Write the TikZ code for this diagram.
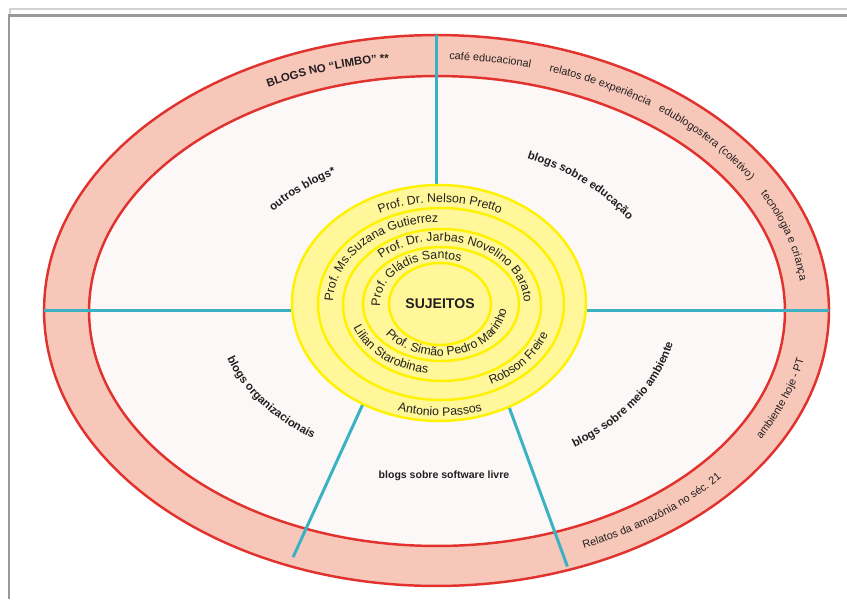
\documentclass[tikz,border=0pt]{standalone}
\usepackage{fontspec}
\setmainfont{Liberation Sans}
\usetikzlibrary{shapes.geometric,decorations.text}

\definecolor{faixa}{HTML}{F7C8BA}
\definecolor{borda}{HTML}{E2322D}
\definecolor{miolo}{HTML}{FDF8F8}
\definecolor{gema}{HTML}{FFF799}
\definecolor{gemaline}{HTML}{FFF200}
\definecolor{eixo}{HTML}{3BB2C4}
\definecolor{texto}{HTML}{231F20}

\newcommand{\bandfont}{\fontsize{6.2}{7.2}\selectfont}
\newcommand{\ringfont}{\fontsize{7}{8}\selectfont}
\newcommand{\zonefont}{\fontsize{6.5}{7.5}\selectfont\bfseries}

\pgfdeclarelayer{fundo}
\pgfdeclarelayer{eixos}
\pgfsetlayers{fundo,eixos,main}

\tikzset{
  oval/.style={ellipse, inner sep=0pt, outer sep=0pt},
  ring/.style={oval, draw=gemaline, fill=gema, line width=1.4pt},
  spoke/.style={draw=eixo, line width=1.7pt},
  curved/.style={decorate, decoration={text along path, text align=center, text color=texto, text={#1}}}
}

\begin{document}
\begin{tikzpicture}[x=0.02cm, y=0.02cm]
\useasboundingbox (0,0) rectangle (847,-599);

\begin{pgfonlayer}{fundo}
\fill[white] (0,0) rectangle (847,-599);
\draw[black!18, line width=0.6pt] (10,-15) -- (10,-9) -- (847,-9);
\draw[black!40, line width=1.7pt] (9,-599) -- (9,-15.5) -- (847,-15.5);
\node[oval, draw=borda, fill=faixa, line width=1.4pt, minimum width=15.7cm, minimum height=11.02cm] (out) at (436.5,-310.5) {};
\node[oval, draw=borda, fill=miolo, line width=1.4pt, minimum width=13.92cm, minimum height=9.4cm] (in) at (437,-311) {};
\end{pgfonlayer}

\node[ring, minimum width=5.88cm, minimum height=4.72cm] (r1) at (439,-303) {};
\node[ring, minimum width=4.92cm, minimum height=3.84cm] (r2) at (441,-304) {};
\node[ring, minimum width=3.96cm, minimum height=3.04cm] (r3) at (442,-305) {};
\node[ring, minimum width=3.12cm, minimum height=2.28cm] (r4) at (441,-304) {};
\node[ring, minimum width=2.04cm, minimum height=1.64cm] (r5) at (440,-304) {};
\coordinate (nucleo) at (440,-304);

\begin{pgfonlayer}{eixos}
\path[spoke] (out.north) -- (out.north |- r1.north);
\path[spoke] (out.west) -- (out.west -| r1.west);
\path[spoke] (out.east) -- (out.east -| r1.east);
\path[spoke, shorten >=0.19cm] (r1.233) -- (out.240);
\path[spoke, shorten >=0.07cm] (r1.304) -- (out.297);
\end{pgfonlayer}

\node[font=\fontsize{8}{9}\selectfont\bfseries, text=texto] (sujeitos) at (nucleo) {SUJEITOS};

% aneis
\path[curved={|\ringfont|Prof. Dr. Nelson Pretto}] ([shift={(125:131 and 102)}]nucleo) arc[start angle=125, end angle=55, x radius=131, y radius=102];
\path[curved={|\ringfont|Antonio Passos}] ([shift={(235:139 and 112)}]nucleo) arc[start angle=235, end angle=305, x radius=139, y radius=112];
\path[curved={|\ringfont|Prof. Ms.Suzana Gutierrez}] ([shift={(191:107 and 82)}]nucleo) arc[start angle=191, end angle=81, x radius=107, y radius=82];
\path[curved={|\ringfont|Robson Freire}] ([shift={(-71:115 and 90)}]nucleo) arc[start angle=-71, end angle=-11, x radius=115, y radius=90];
\path[curved={|\ringfont|Prof. Dr. Jarbas Novelino Barato}] ([shift={(147:84 and 63)}]nucleo) arc[start angle=147, end angle=-13, x radius=84, y radius=63];
\path[curved={|\ringfont|Lilian Starobinas}] ([shift={(190:92 and 70)}]nucleo) arc[start angle=190, end angle=270, x radius=92, y radius=70];
\path[curved={|\ringfont|Prof. Gládis Santos}] ([shift={(198:60 and 45)}]nucleo) arc[start angle=198, end angle=58, x radius=60, y radius=45];
\path[curved={|\ringfont|Prof. Simão Pedro Marinho}] ([shift={(200:67 and 52)}]nucleo) arc[start angle=200, end angle=370, x radius=67, y radius=52];

% faixa externa
\path[curved={|\zonefont|BLOGS NO “LIMBO” **}] ([shift={(120.5:366 and 251)}]out.center) arc[start angle=120.5, end angle=94.5, x radius=366, y radius=251];
\path[curved={|\bandfont|café educacional}] ([shift={(93:366 and 251)}]out.center) arc[start angle=93, end angle=70, x radius=366, y radius=251];
\path[curved={|\bandfont|relatos de experiência}] ([shift={(77:366 and 251)}]out.center) arc[start angle=77, end angle=49, x radius=366, y radius=251];
\path[curved={|\bandfont|edublogosfera (coletivo)}] ([shift={(57:366 and 251)}]out.center) arc[start angle=57, end angle=26, x radius=366, y radius=251];
\path[curved={|\bandfont|tecnologia e criança}] ([shift={(31:366 and 251)}]out.center) arc[start angle=31, end angle=3, x radius=366, y radius=251];
\path[curved={|\bandfont|ambiente hoje - PT}] ([shift={(-34:374 and 259)}]out.center) arc[start angle=-34, end angle=-6, x radius=374, y radius=259];
\path[curved={|\bandfont|Relatos da amazônia no séc. 21}] ([shift={(-73:374 and 259)}]out.center) arc[start angle=-73, end angle=-33, x radius=374, y radius=259];

% regioes
\path[curved={|\zonefont|outros blogs*}] ([shift={(150:212 and 155)}]out.center) arc[start angle=150, end angle=110, x radius=212, y radius=155];
\path[curved={|\zonefont|blogs sobre educação}] ([shift={(74:229 and 166)}]out.center) arc[start angle=74, end angle=24, x radius=229, y radius=166];
\path[curved={|\zonefont|blogs organizacionais}] ([shift={(190:220 and 155)}]out.center) arc[start angle=190, end angle=242, x radius=220, y radius=155];
\path[curved={|\zonefont|blogs sobre meio ambiente}] ([shift={(-62:241 and 167)}]out.center) arc[start angle=-62, end angle=-2, x radius=241, y radius=167];
\node[font=\fontsize{6}{7}\selectfont\bfseries, text=texto] (software) at (444,-476) {blogs sobre software livre};
\end{tikzpicture}
\end{document}
